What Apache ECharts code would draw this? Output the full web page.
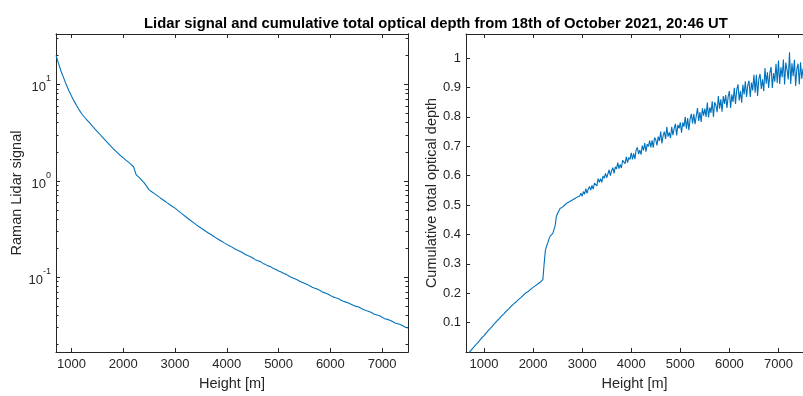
<!DOCTYPE html>
<html>
<head>
<meta charset="utf-8">
<script src="https://cdn.jsdelivr.net/npm/echarts@6/dist/echarts.min.js"></script>
<style>
  html, body { margin: 0; padding: 0; background: #fff; }
  #chart { width: 803px; height: 396px; }
</style>
</head>
<body>
<div id="chart"></div>
<script>
const chartTitle = 'Lidar signal and cumulative total optical depth from 18th of October 2021, 20:46 UT';
const heightName = 'Height [m]';
const signalName = 'Raman Lidar signal';
const depthName = 'Cumulative total optical depth';

const heightTicks = [1000, 2000, 3000, 4000, 5000, 6000, 7000];
const signalTicks = [0.1, 1, 10];
const signalMinorTicks = [0.02, 0.03, 0.04, 0.05, 0.06, 0.07, 0.08, 0.09,
  0.2, 0.3, 0.4, 0.5, 0.6, 0.7, 0.8, 0.9,
  2, 3, 4, 5, 6, 7, 8, 9, 20, 30];
const depthTicks = [0.1, 0.2, 0.3, 0.4, 0.5, 0.6, 0.7, 0.8, 0.9, 1];

// Raman lidar signal, range bins of 50 m starting at 700 m
const signalStart = 700;
const signalStep = 50;
const ramanSignal = [
  20.0, 16.4, 13.6, 11.6, 9.89, 8.59,
  7.55, 6.70, 6.01, 5.41, 4.93, 4.56, 4.26, 3.98, 3.72, 3.46,
  3.23, 3.02, 2.82, 2.64, 2.47, 2.31, 2.17, 2.04, 1.92, 1.82,
  1.73, 1.64, 1.56, 1.48, 1.39, 1.15, 1.09, 1.02, 0.955, 0.881,
  0.805, 0.769, 0.736, 0.705, 0.673, 0.644, 0.617, 0.590, 0.565, 0.542,
  0.520, 0.494, 0.470, 0.448, 0.426, 0.406, 0.387, 0.370, 0.353, 0.338,
  0.324, 0.311, 0.298, 0.286, 0.275, 0.264, 0.254, 0.245, 0.236, 0.227,
  0.219, 0.212, 0.205, 0.197, 0.191, 0.186, 0.180, 0.173, 0.168, 0.164,
  0.158, 0.152, 0.148, 0.145, 0.139, 0.135, 0.131, 0.128, 0.123, 0.120,
  0.116, 0.113, 0.109, 0.107, 0.103, 0.0995, 0.0970, 0.0946, 0.0914, 0.0884,
  0.0863, 0.0842, 0.0815, 0.0788, 0.0769, 0.0752, 0.0726, 0.0700, 0.0684, 0.0668,
  0.0646, 0.0625, 0.0612, 0.0600, 0.0581, 0.0563, 0.0551, 0.0540, 0.0524, 0.0508,
  0.0498, 0.0490, 0.0473, 0.0459, 0.0449, 0.0440, 0.0427, 0.0413, 0.0405, 0.0398,
  0.0385, 0.0371, 0.0365, 0.0358, 0.0347, 0.0335, 0.0329, 0.0323, 0.0313, 0.0302,
  0.0297
];

// Cumulative total optical depth, range bins of 25 m starting at 650 m
const depthStart = 650;
const depthStep = 25;
const opticalDepth = [
  -0.010, -0.005, -0.001, 0.004, 0.009, 0.014, 0.018, 0.023, 0.028, 0.033,
  0.037, 0.042, 0.047, 0.052, 0.056, 0.061, 0.066, 0.070, 0.075, 0.080,
  0.084, 0.089, 0.094, 0.098, 0.103, 0.107, 0.112, 0.116, 0.121, 0.125,
  0.129, 0.134, 0.138, 0.142, 0.146, 0.151, 0.155, 0.158, 0.163, 0.167,
  0.170, 0.175, 0.178, 0.183, 0.185, 0.190, 0.193, 0.198, 0.201, 0.199,
  0.206, 0.210, 0.213, 0.216, 0.220, 0.223, 0.226, 0.229, 0.232, 0.235,
  0.238, 0.241, 0.247, 0.300, 0.345, 0.360, 0.372, 0.385, 0.395, 0.400,
  0.403, 0.408, 0.430, 0.462, 0.472, 0.476, 0.488, 0.482, 0.493, 0.497,
  0.501, 0.498, 0.508, 0.504, 0.512, 0.509, 0.517, 0.514, 0.522, 0.518,
  0.527, 0.523, 0.531, 0.540, 0.530,
  0.546, 0.537, 0.556, 0.540, 0.555, 0.563, 0.551, 0.567, 0.554, 0.575,
  0.573, 0.565, 0.590, 0.577, 0.590, 0.577, 0.599, 0.591, 0.608, 0.593,
  0.598, 0.620, 0.600, 0.617, 0.627, 0.608, 0.630, 0.623, 0.644, 0.624,
  0.638, 0.626, 0.652, 0.651, 0.641, 0.664, 0.644, 0.662, 0.655, 0.678,
  0.655, 0.676, 0.656, 0.687, 0.696, 0.673, 0.687, 0.672, 0.702, 0.686,
  0.711, 0.682, 0.707, 0.699, 0.719, 0.696, 0.720, 0.695, 0.730, 0.722,
  0.703, 0.733, 0.718, 0.750, 0.710, 0.737, 0.750, 0.725, 0.766, 0.733,
  0.747, 0.728, 0.766, 0.738, 0.761, 0.776, 0.737, 0.773, 0.761, 0.781,
  0.746, 0.781, 0.767, 0.800, 0.760, 0.796, 0.755, 0.793, 0.810, 0.778,
  0.810, 0.775, 0.803, 0.830, 0.786, 0.816, 0.783, 0.829, 0.804, 0.828,
  0.800, 0.849, 0.798, 0.832, 0.814, 0.853, 0.800, 0.850, 0.840, 0.816,
  0.871, 0.828, 0.860, 0.818, 0.871, 0.844, 0.874, 0.830, 0.869, 0.888,
  0.830, 0.876, 0.851, 0.899, 0.844, 0.893, 0.911, 0.856, 0.888, 0.848,
  0.909, 0.876, 0.921, 0.868, 0.908, 0.923, 0.868, 0.917, 0.890, 0.943,
  0.882, 0.943, 0.871, 0.929, 0.946, 0.895, 0.928, 0.887, 0.966, 0.913,
  0.952, 0.898, 0.950, 0.970, 0.898, 0.949, 0.920, 0.981, 0.915, 0.992,
  0.912, 0.969, 0.935, 0.995, 0.910, 0.985, 0.961, 0.927, 1.020, 0.912,
  0.982, 0.938, 0.994, 0.905, 0.964, 0.981, 0.910, 0.986, 0.930, 0.964
];

const signalData = ramanSignal.map((v, i) => [signalStart + i * signalStep, v]);
const depthData = opticalDepth.map((v, i) => [depthStart + i * depthStep, v]);

const ink = '#262626';
const lineBlue = '#0072BD';
const font = "'Liberation Sans', Arial, sans-serif";

function frameX(gridIndex, min, max, position, withLabels) {
  return {
    type: 'value', gridIndex, min, max, position,
    axisLine: { show: true, onZero: false, lineStyle: { color: ink, width: 1 } },
    axisTick: { show: true, inside: true, length: 4, customValues: heightTicks, lineStyle: { color: ink, width: 1 } },
    axisLabel: withLabels ? {
      show: true, customValues: heightTicks, color: ink, fontSize: 13, fontFamily: font, margin: 6,
      formatter: v => String(v)
    } : { show: false },
    splitLine: { show: false },
    name: withLabels ? heightName : '',
    nameLocation: 'middle', nameGap: 24,
    nameTextStyle: { color: ink, fontSize: 14.5, fontFamily: font }
  };
}

function logY(position, ticks, len, withLabels) {
  return {
    type: 'log', logBase: 10, gridIndex: 0, min: 0.01675, max: 33.3, position,
    axisLine: { show: true, onZero: false, lineStyle: { color: ink, width: 1 } },
    axisTick: { show: true, inside: true, length: len, customValues: ticks, lineStyle: { color: ink, width: 1 } },
    axisLabel: withLabels ? {
      show: true, customValues: ticks, margin: 5,
      formatter: v => '{b|10}{e|' + Math.round(Math.log10(v)) + '}',
      rich: {
        b: { fontSize: 13, fontFamily: font, color: ink, lineHeight: 20, verticalAlign: 'bottom' },
        e: { fontSize: 9, fontFamily: font, color: ink, lineHeight: 20, verticalAlign: 'top' }
      }
    } : { show: false },
    splitLine: { show: false },
    minorTick: { show: false },
    name: withLabels ? signalName : '',
    nameLocation: 'middle', nameGap: 30, nameRotate: 90,
    nameTextStyle: { color: ink, fontSize: 14.5, fontFamily: font }
  };
}

const chart = echarts.init(document.getElementById('chart'), null, { renderer: 'canvas' });
chart.setOption({
  animation: false,
  backgroundColor: '#ffffff',
  title: {
    text: chartTitle, left: 139, top: 11,
    textStyle: { color: '#000', fontSize: 14.8, fontWeight: 'bold', fontFamily: font }
  },
  grid: [
    { left: 56, top: 34, width: 352, height: 322 },
    { left: 466, top: 34, width: 343, height: 322 }
  ],
  xAxis: [
    frameX(0, 700, 7500, 'bottom', true),
    frameX(0, 700, 7500, 'top', false),
    frameX(1, 633, 7500, 'bottom', true),
    frameX(1, 633, 7500, 'top', false)
  ],
  yAxis: [
    logY('left', signalTicks, 4, true),
    logY('left', signalMinorTicks, 2.5, false),
    logY('right', signalTicks, 4, false),
    logY('right', signalMinorTicks, 2.5, false),
    {
      type: 'value', gridIndex: 1, min: 0, max: 1.082, position: 'left',
      axisLine: { show: true, onZero: false, lineStyle: { color: ink, width: 1 } },
      axisTick: { show: true, inside: true, length: 4, customValues: depthTicks, lineStyle: { color: ink, width: 1 } },
      axisLabel: {
        show: true, customValues: depthTicks, color: ink, fontSize: 13, fontFamily: font, margin: 5,
        formatter: v => String(Math.round(v * 10) / 10)
      },
      splitLine: { show: false },
      name: depthName, nameLocation: 'middle', nameGap: 26, nameRotate: 90,
      nameTextStyle: { color: ink, fontSize: 14.5, fontFamily: font }
    }
  ],
  series: [
    {
      type: 'line', xAxisIndex: 0, yAxisIndex: 0, data: signalData,
      showSymbol: false, clip: true,
      lineStyle: { color: lineBlue, width: 1.1 }
    },
    {
      type: 'line', xAxisIndex: 2, yAxisIndex: 4, data: depthData,
      showSymbol: false, clip: true,
      lineStyle: { color: lineBlue, width: 1.1 }
    }
  ]
});
</script>
</body>
</html>
